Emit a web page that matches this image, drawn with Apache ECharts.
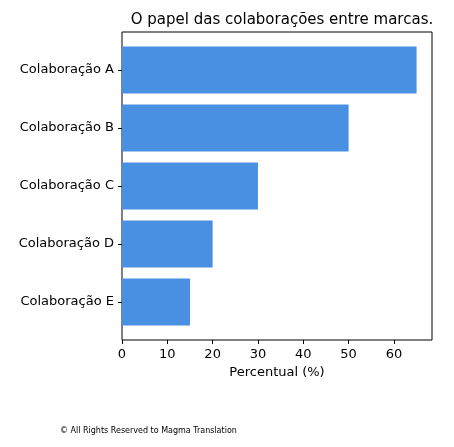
<!DOCTYPE html>
<html><head><meta charset="utf-8">
<script src="https://cdn.jsdelivr.net/npm/echarts@6/dist/echarts.min.js"></script>
<style>html,body{margin:0;background:#fff}#c{width:454px;height:447px}</style>
</head><body><div id="c"></div>
<script>
var categories = ['Colaboração A', 'Colaboração B', 'Colaboração C', 'Colaboração D', 'Colaboração E'];
var values = [65, 50, 30, 20, 15];
var xTicks = [0, 10, 20, 30, 40, 50, 60];

var chart = echarts.init(document.getElementById('c'));
chart.setOption({
    animation: false,
    title: {
        text: 'O papel das colaborações entre marcas.',
        left: 277, top: 8, textAlign: 'center',
        textStyle: {fontSize: 15, fontWeight: 'normal', color: '#000', fontFamily: 'DejaVu Sans'}
    },
    grid: {left: 122, right: 22, top: 41, bottom: 116},
    xAxis: {
        type: 'value', min: 0, max: 68.4, interval: 10, offset: 9,
        name: 'Percentual (%)', nameLocation: 'middle', nameGap: 22,
        nameTextStyle: {fontSize: 13, color: '#000', fontFamily: 'DejaVu Sans'},
        axisLine: {show: false},
        axisTick: {show: true, length: 4, lineStyle: {color: '#000'}},
        axisLabel: {fontSize: 13, color: '#000', fontFamily: 'DejaVu Sans', showMaxLabel: false,
            formatter: function (v) { return xTicks.indexOf(v) >= 0 ? v : ''; }},
        splitLine: {show: false}
    },
    yAxis: {
        type: 'category', data: categories, inverse: true,
        axisLine: {show: false},
        axisTick: {show: true, alignWithLabel: true, length: 4, lineStyle: {color: '#000'}},
        axisLabel: {fontSize: 13, color: '#000', fontFamily: 'DejaVu Sans', margin: 8}
    },
    series: [{
        type: 'bar', data: values, barWidth: 47,
        itemStyle: {color: '#4a90e2'}
    }],
    graphic: [
        {type: 'rect', shape: {x: 122, y: 32, width: 310, height: 308},
         style: {fill: 'none', stroke: '#000', lineWidth: 1}},
        {type: 'text', left: 60, top: 427,
         style: {text: '© All Rights Reserved to Magma Translation', fontSize: 8, fill: '#000', fontFamily: 'DejaVu Sans'}}
    ]
});
</script></body></html>
